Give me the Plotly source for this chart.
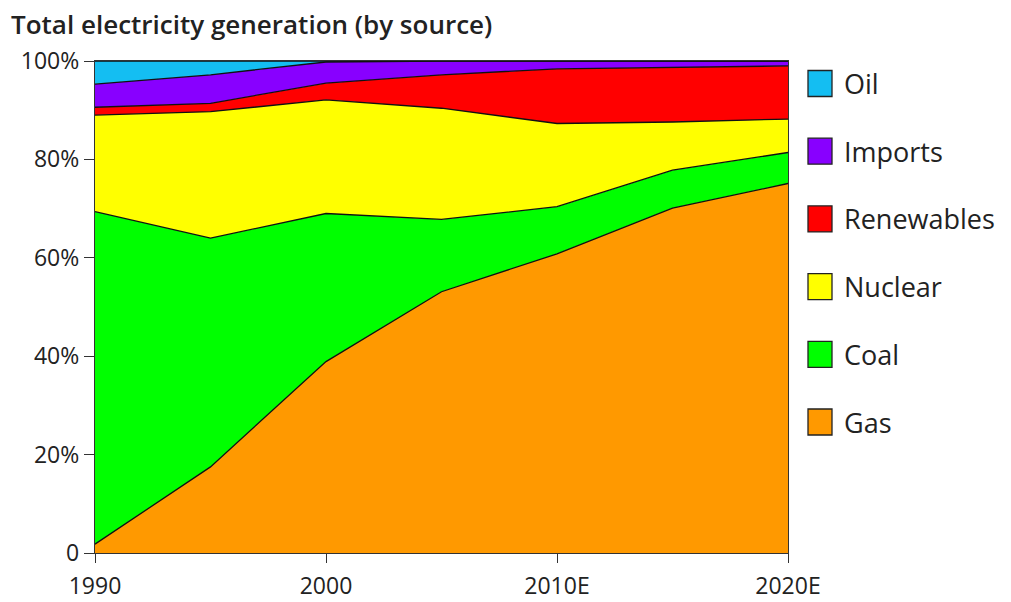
import plotly.graph_objects as go

years = [1990, 1995, 2000, 2005, 2010, 2015, 2020]
series_names = ["Gas", "Coal", "Nuclear", "Renewables", "Imports", "Oil"]
gas = [1.8, 17.5, 38.9, 53.1, 60.8, 70.1, 75.1]
coal = [67.6, 46.5, 30.1, 14.7, 9.6, 7.7, 6.3]
nuclear = [19.6, 25.7, 23.1, 22.6, 16.9, 9.8, 6.8]
renewables = [1.6, 1.7, 3.4, 6.8, 11.1, 11.1, 10.8]
imports = [4.7, 5.8, 4.3, 2.8, 1.6, 1.3, 1.0]
oil = [4.7, 2.8, 0.2, 0.0, 0.0, 0.0, 0.0]
colors = ["#FF9900", "#00FF00", "#FFFF00", "#FF0000", "#8800FF", "#14BEF2"]

x_tickvals = [1990, 2000, 2010, 2020]
x_ticktext = ["1990", "2000", "2010E", "2020E"]
y_tickvals = [0, 20, 40, 60, 80, 100]
y_ticktext = ["0", "20%", "40%", "60%", "80%", "100%"]

title_text = "Total electricity generation (by source)"
FONT = "Open Sans"
TXT = "#222222"

values = [gas, coal, nuclear, renewables, imports, oil]

fig = go.Figure()
for name, vals, col in zip(series_names, values, colors):
    fig.add_trace(go.Scatter(
        x=years, y=vals, name=name, mode="lines",
        stackgroup="one", fillcolor=col,
        line=dict(color="#111111", width=1.3),
        showlegend=False, hoverinfo="skip",
    ))

# Manual legend (top item = Oil)
legend_order = list(reversed(range(len(series_names))))
top_center = 83.5
step = 67.7
H = 602
PH = H - 61 - 49
for i, idx in enumerate(legend_order):
    cy = top_center + i * step
    fig.add_shape(type="rect", xref="paper", yref="paper",
                  x0=(808 - 95) / 693, x1=(832 - 95) / 693,
                  y0=(H - 49 - (cy + 13)) / PH,
                  y1=(H - 49 - (cy - 13)) / PH,
                  fillcolor=colors[idx], line=dict(color="#222222", width=1.3))
    fig.add_annotation(xref="paper", yref="paper",
                       x=(842 - 95) / 693,
                       y=(H - 49 - cy) / PH,
                       text=series_names[idx], showarrow=False,
                       xanchor="left", yanchor="middle",
                       font=dict(family=FONT, size=27, color=TXT, weight=500))

fig.update_layout(
    width=1011, height=602,
    margin=dict(l=95, r=223, t=61, b=49, autoexpand=False),
    paper_bgcolor="white", plot_bgcolor="white",
    title=dict(text=title_text, x=11 / 1011, xanchor="left",
               y=1 - 25 / 602, yanchor="middle",
               font=dict(family=FONT, size=26, color=TXT, weight=600)),
    showlegend=False,
)
fig.update_xaxes(range=[1990, 2020], tickvals=x_tickvals, ticktext=x_ticktext,
                 ticks="outside", ticklen=9, tickcolor="#333333", tickwidth=1.3,
                 ticklabelstandoff=3, automargin=False,
                 showgrid=False, zeroline=False,
                 showline=True, linecolor="#333333", linewidth=1.3, mirror=True,
                 tickfont=dict(family=FONT, size=23, color=TXT, weight=500))
fig.update_yaxes(range=[0, 100], tickvals=y_tickvals, ticktext=y_ticktext,
                 ticks="outside", ticklen=10, tickcolor="#333333", tickwidth=1.3,
                 automargin=False,
                 showgrid=False, zeroline=False,
                 showline=True, linecolor="#333333", linewidth=1.3, mirror=True,
                 tickfont=dict(family=FONT, size=23, color=TXT, weight=500))

fig.write_html("out.html")
